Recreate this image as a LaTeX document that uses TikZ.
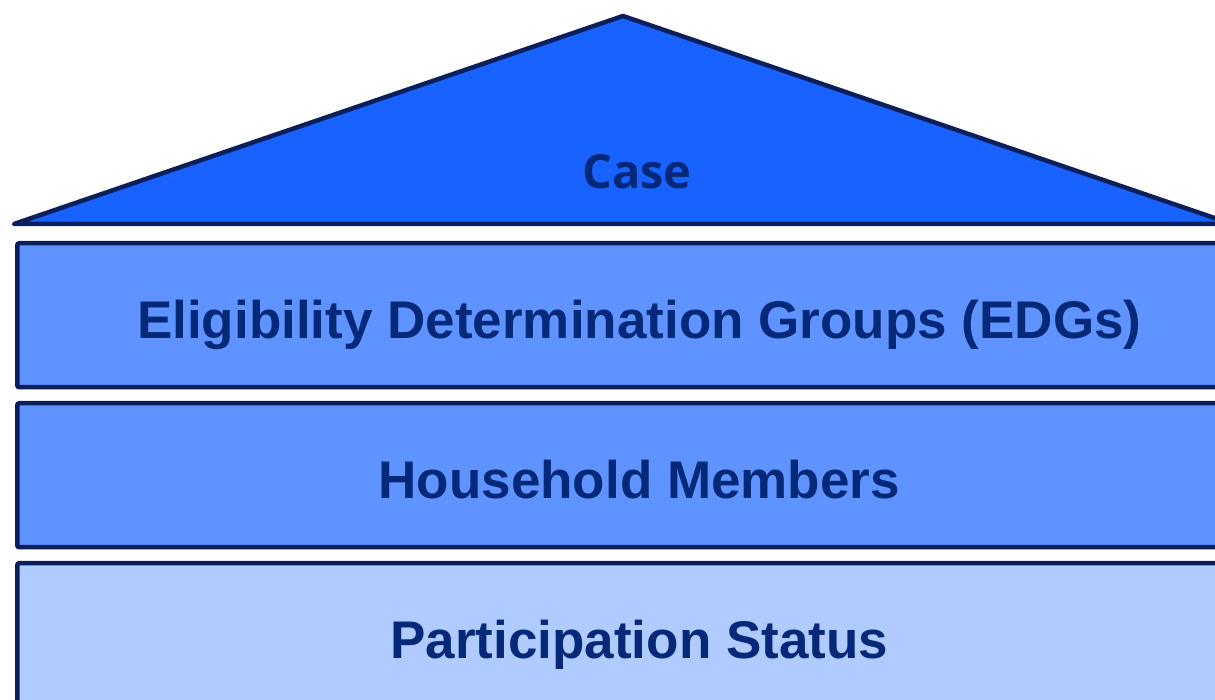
\documentclass[tikz,border=0pt]{standalone}
\usepackage{fontspec}
\setmainfont{Liberation Sans}
\newfontfamily\casefont{Open Sans}
\usetikzlibrary{positioning}
\definecolor{roofblue}{HTML}{1862FF}
\definecolor{midblue}{HTML}{5F93FF}
\definecolor{paleblue}{HTML}{B0CBFF}
\definecolor{navy}{HTML}{0A1F5C}
\definecolor{labelblue}{HTML}{062878}
\tikzset{layer/.style={draw=navy,line width=4.5pt,rounded corners=2pt,anchor=north west,
                       minimum width=1244pt,minimum height=144pt,inner sep=0pt,
                       text height=46pt,text depth=0pt,text=labelblue,
                       font=\fontsize{53}{60}\selectfont\bfseries},
         roof/.style={draw=navy,line width=4.5pt,line join=round,fill=roofblue},
        }

\begin{document}
\begin{tikzpicture}[x=1pt,y=1pt]
        \useasboundingbox(0,0)rectangle(1215,700);
        \clip(0,0)rectangle(1215,700);

        \coordinate(rl)at(14,476);
        \coordinate(rt)at(623,684);
        \coordinate(rr)at(1232,476);
        \draw[roof](rl)--(rt)--(rr)--cycle;
        \node[text=labelblue, anchor=base, font=\casefont\fontsize{47}{54}\selectfont\bfseries](case)at(637,511){Case};

        \node[layer, fill=midblue](edg)at(15,459){Eligibility Determination Groups (EDGs)};
        \node[layer, fill=midblue](hh)at(15,299){Household Members};
        \node[layer, fill=paleblue](ps)at(15,139){Participation Status};
    \end{tikzpicture}
\end{document}
